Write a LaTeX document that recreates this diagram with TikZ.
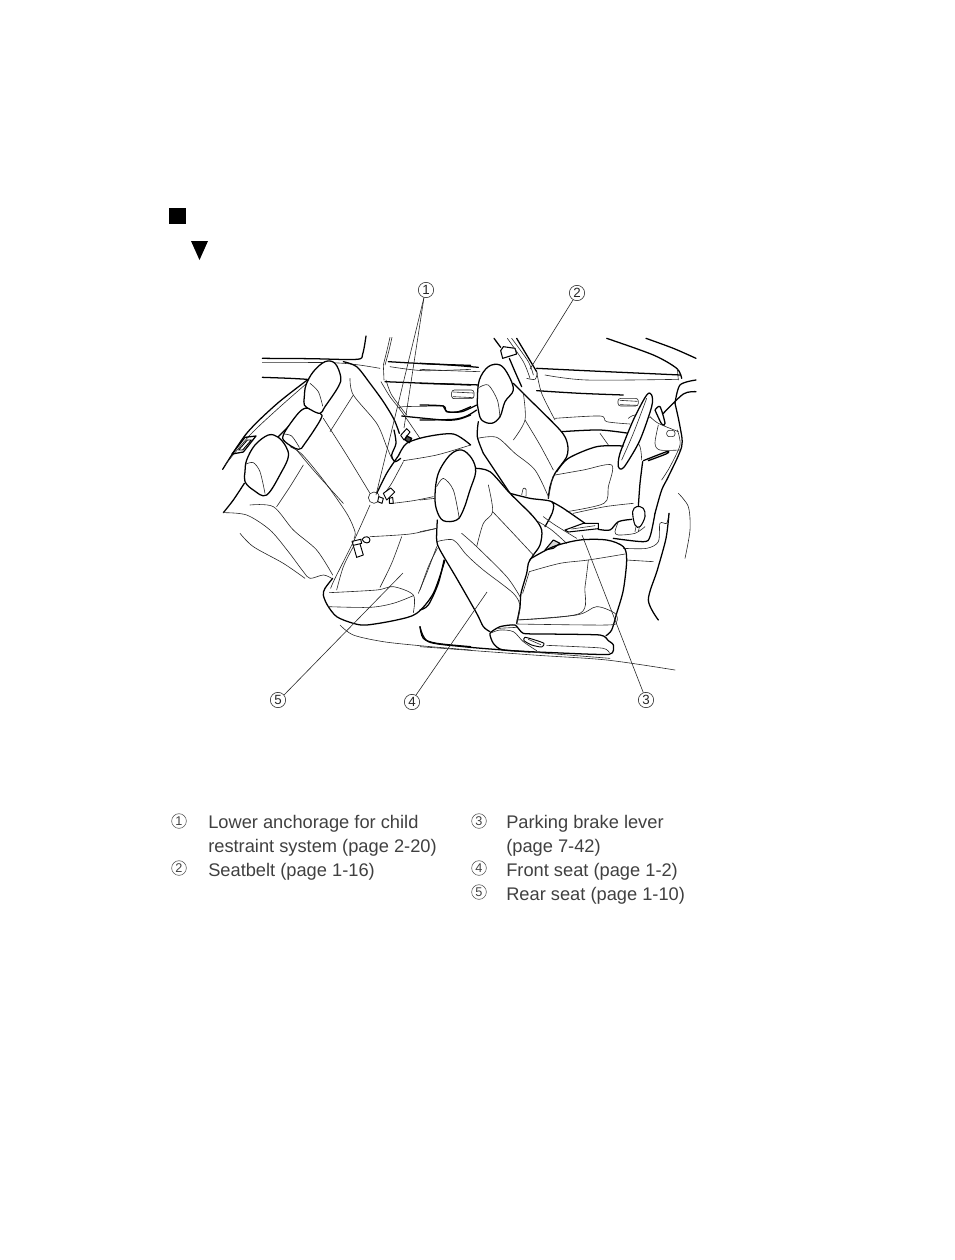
\documentclass[tikz,border=0pt]{standalone}
\usepackage{fontspec}
\setmainfont{Liberation Sans}
\newcommand\TK[1]{\draw[hv] plot[smooth,tension=0.5] coordinates {#1};}
\newcommand\TN[1]{\draw[lt] plot[smooth,tension=0.5] coordinates {#1};}
\newcommand\BL[1]{\draw[hv,fill=white] plot[smooth cycle,tension=0.6] coordinates {#1};}
\tikzset{
  hv/.style={line width=.95pt,black,line join=round,line cap=round},
  lt/.style={line width=.45pt,black!85,line join=round,line cap=round},
  leader/.style={line width=.45pt,black!85},
  callout/.style={circle,draw=black!85,line width=.45pt,inner sep=0pt,minimum size=11.5pt,font=\fontsize{10}{10}\selectfont,text=black!85},
  legnum/.style={circle,draw=black!70,line width=.4pt,inner sep=0pt,minimum size=11pt,font=\fontsize{9.5}{10}\selectfont,text=black!75},
  legtxt/.style={anchor=base west,inner sep=0pt,font=\fontsize{13.7}{18}\selectfont,text=black!75},
  za/.style={shift={(210,330)},x=.25pt,y=-.25pt},
  zb/.style={shift={(420,330)},x=.25pt,y=-.25pt}
}
\begin{document}
\begin{tikzpicture}[x=.75pt,y=-.75pt]
\useasboundingbox (0,0) rectangle (954,1260);
\fill[black] (169,208) rectangle (186,224);
\fill[black] (191,241) -- (208,241) -- (199.5,260) -- cycle;

% ---------- rear seat and left side ----------
\begin{scope}[za]
\TK{(157,85)(300,86)(440,88)(458,72)(468,18)}
\TN{(157,97)(360,98)(440,104)(510,115)}
\TK{(157,142)(240,145)(292,148)}
\TN{(520,105)(530,65)(540,22)}
\TN{(525,105)(536,65)(546,22)}
\TN{(513,155)(540,200)(575,245)(630,325)}
\TN{(528,150)(545,195)(590,255)}
\TN{(520,105)(522,150)}
\TK{(292,150)(200,222)(110,310)(38,418)}
\TN{(296,155)(205,235)(120,315)(45,405)}
\TK{(295,232)(250,275)(205,320)}
\draw[hv] (66,372) -- (105,322) -- (138,318) -- (100,366) -- cycle;
\draw[hv,line width=.7pt] (86,360) -- (112,330) -- (124,330) -- (98,360) -- cycle;
\TK{(535,95)(660,102)(782,106)}
\TN{(540,110)(640,122)(782,118)}
\TK{(525,155)(650,160)(782,165)}
\draw[lt,fill=white,rounded corners=2pt] (725,182) rectangle (782,206);
\TN{(732,186)(782,188)} \TN{(732,202)(782,204)}
\TN{(570,235)(580,230)(700,228)}
\TK{(700,228)(712,245)(745,245)(782,230)}
\TK{(575,258)(700,270)(745,268)(782,255)}
\TK{(400,95)(440,110)(480,160)(520,215)(552,268)(568,310)}
\TK{(103,460)(70,510)(40,548)}
\TN{(40,548)(110,555)(180,600)(235,665)(280,725)(300,745)(340,735)(365,745)}
\TN{(90,610)(130,650)(220,700)(285,745)}
\TN{(120,525)(190,530)(250,600)(320,660)(368,735)}
\TK{(566,376)(530,430)(498,495)}
\TN{(580,395)(545,460)(522,492)}
\TN{(420,145)(430,195)(500,280)(530,350)(545,385)}
\TN{(430,195)(395,250)(360,305)}
\TN{(340,265)(410,375)(480,490)}
\TN{(280,405)(240,470)(200,530)}
\TN{(260,360)(310,420)(400,520)}
\TN{(240,350)(275,372)(340,450)(410,550)(435,605)(432,625)}
\TK{(552,300)(558,340)(545,375)(555,395)(572,385)}
\draw[hv,line width=.7pt,fill=white] (572,316) -- (590,296) -- (600,306) -- (582,330) -- cycle;
\draw[hv,fill=black!70] (590,318) -- (605,325) -- (598,338) -- (585,330) -- cycle;
\draw[lt,fill=white] (492,503) circle (17);
\draw[hv,line width=.7pt,fill=white] (520,490) -- (542,474) -- (554,486) -- (530,510) -- cycle;
\draw[hv,line width=.7pt,fill=white] (506,500) -- (520,505) -- (516,520) -- (503,515) -- cycle;
\draw[hv,line width=.7pt,fill=white] (538,505) -- (548,502) -- (550,520) -- (538,520) -- cycle;
\draw[hv,line width=.7pt,fill=white] (456,628) .. controls (465,615) and (480,620) .. (480,630) .. controls (480,642) and (462,642) .. (456,628) -- cycle;
\draw[hv,line width=.7pt,fill=white] (428,640) -- (448,635) -- (460,675) -- (440,682) -- cycle;
\draw[hv,line width=.7pt,fill=white] (426,634) -- (452,628) -- (455,640) -- (430,646) -- cycle;
\TN{(480,525)(435,625)(375,745)(362,775)}
\TN{(430,650)(400,710)(380,780)}
\TN{(480,620)(600,612)(680,595)}
\TN{(548,520)(610,512)(670,500)}
\TN{(575,620)(545,700)(510,772)}
\TN{(680,650)(650,730)(625,790)}
\TN{(580,392)(680,375)(782,345)}
\TK{(368,745)(345,775)(340,795)(352,825)(380,860)(430,880)(470,885)(560,870)(620,850)(670,790)(705,690)}
\TN{(358,788)(500,780)(550,770)(610,795)(610,848)}
\TN{(355,830)(480,832)(550,820)(610,797)}
\TN{(390,885)(430,915)(520,935)(640,948)(782,960)}
\TK{(630,890)(640,925)(680,940)(782,950)}
\BL{(105,425)(110,390)(135,345)(175,315)(205,322)(228,350)(235,380)(215,425)(170,495)(130,480)(105,455)}
\TN{(108,402)(130,398)(150,425)(165,490)}
\BL{(275,240)(245,275)(220,315)(225,335)(265,358)(285,340)(332,268)(330,250)(300,235)}
\TN{(220,312)(245,318)(268,352)}
\BL{(283,200)(288,165)(310,125)(345,95)(375,100)(392,140)(385,170)(345,230)(330,250)(300,238)(283,225)}
\TN{(300,160)(325,185)(338,228)}
\TK{(566,376)(590,340)(650,320)(730,312)(782,345)}
\end{scope}

% ---------- front seats, dash ----------
\begin{scope}[zb]
\TK{(560,25)(700,75)(770,115)(785,145)}
\TK{(678,25)(760,55)(828,85)}
\TN{(772,115)(775,150)}
\TK{(350,115)(560,125)(782,135)}
\TN{(375,135)(500,150)(775,148)}
\TK{(350,182)(480,190)(610,195)}
\TK{(0,100)(90,105)(175,112)}
\TN{(0,118)(90,122)(180,125)}
\TK{(0,160)(90,162)(180,165)}
\draw[lt,fill=white,rounded corners=2pt] (95,180) rectangle (162,206);
\TN{(100,186)(160,189)} \TN{(100,200)(160,203)}
\TK{(0,225)(70,228)(80,245)(125,245)(170,225)}
\TK{(0,270)(100,268)(140,258)(170,240)}
\draw[lt,fill=white,rounded corners=2pt] (594,205) rectangle (655,228);
\TN{(600,211)(652,214)} \TN{(600,224)(652,226)}
\TN{(405,265)(540,258)(560,275)(630,282)}
\TK{(425,305)(540,300)(640,312)}
\TN{(540,310)(565,345)}
% seatbelt
\TK{(222,25)(242,52)}
\draw[hv,fill=white,line width=.8pt] (242,62) -- (250,50) -- (285,55) -- (290,72) -- (248,85) -- cycle;
\TN{(262,25)(310,95)(330,145)}
\TK{(290,25)(350,125)}
\TN{(275,25)(325,95)(340,135)}
\TK{(268,85)(285,125)(305,170)}
\TN{(350,125)(365,190)(405,270)}
\TN{(320,145)(345,148)(352,128)}
% dash
\TK{(765,220)(780,165)(828,150)}
\TK{(828,185)(790,192)(730,250)}
\TK{(705,240)(720,230)(735,280)(725,282)(705,240)}
\TK{(765,220)(780,290)(785,350)(745,440)(725,480)(705,550)}
\TN{(772,300)(780,345)(750,410)(725,450)}
\TN{(690,260)(715,280)(775,305)}
\TN{(715,285)(705,340)(720,360)(780,360)}
\draw[lt,fill=white,rounded corners=2pt] (740,301) rectangle (765,320);
\TK{(670,392)(740,365)(740,371)(685,392)}
\TK{(668,395)(660,460)(655,530)}
\TN{(625,265)(645,255)(690,262)}
\TN{(635,310)(660,350)(665,390)}
\draw[hv,fill=white] plot[smooth cycle,tension=0.5] coordinates {(595,410)(600,370)(640,270)(680,195)(695,195)(695,230)(660,330)(620,400)(605,417)};
\TN{(605,390)(640,310)(680,205)}
% console
\TN{(460,550)(555,530)(640,520)}
\TK{(535,598)(570,600)(595,575)(635,568)}
\TN{(595,575)(585,605)(595,615)(645,610)(675,590)}
\TK{(705,550)(690,620)(670,635)(580,625)}
\TN{(610,655)(680,655)(715,635)(720,580)(740,580)(747,550)}
\TN{(620,690)(700,695)}
\TN{(775,490)(805,530)(810,600)(795,685)}
\TK{(747,550)(738,625)(712,720)(685,810)(715,870)}
\draw[hv,fill=white,line width=.8pt] plot[smooth cycle,tension=0.6] coordinates {(638,545)(650,530)(670,535)(675,560)(660,590)(645,585)};
\TN{(648,590)(645,605)} \TN{(658,592)(655,605)}
% driver's seat
\TK{(410,425)(445,385)(530,350)(610,348)}
\TN{(405,435)(490,420)(575,405)(565,470)(552,520)(440,545)}
\TK{(190,370)(230,430)(270,490)}
\TK{(280,160)(320,200)(420,300)(442,340)(440,380)(405,430)(390,470)(385,505)}
\TN{(398,440)(385,505)}
\TN{(310,190)(315,270)(280,330)}
\TN{(315,270)(360,345)(400,420)}
\TN{(172,325)(230,322)(285,370)(345,420)(385,500)}
\TK{(175,275)(172,320)(190,370)}
\BL{(172,210)(178,150)(205,110)(240,105)(265,135)(280,180)(255,215)(240,260)(215,280)(185,270)(175,240)}
\TN{(178,172)(205,165)(232,210)(240,262)}
\TN{(305,495)(310,475)(318,478)(318,498)}
% console top and brake
\TK{(270,490)(330,505)(395,515)(398,545)(375,590)}
\TK{(395,515)(430,535)(495,580)}
\TN{(370,560)(405,585)(470,625)}
\TN{(355,575)(395,600)(440,640)}
\draw[hv,fill=white,line width=.8pt] (435,600) -- (490,580) -- (535,580) -- (535,596) -- (445,606) -- cycle;
\TN{(455,597)(525,587)}
\draw[hv,fill=black!15,line width=.8pt] (375,660) -- (400,630) -- (420,640) -- (400,655) -- cycle;
% front cushion
\TK{(325,690)(400,650)(480,630)(560,630)(610,650)(620,690)(610,780)(590,850)(575,900)(558,917)}
\TN{(328,725)(420,700)(505,690)(615,672)}
\TN{(505,690)(495,770)(480,850)(290,870)}
\TN{(290,870)(470,855)(530,830)(585,850)(590,875)(560,885)(290,882)}
% front back
\draw[white,fill=white] plot[smooth cycle,tension=.4] coordinates {(52,572)(60,660)(170,850)(210,900)(295,860)(322,700)(362,640)(362,590)(270,490)(210,425)(165,415)(130,540)};
\TK{(52,570)(50,630)(60,660)(110,745)(170,850)(190,890)(210,905)}
\TK{(165,415)(210,425)(270,490)(340,560)(365,600)(360,645)(340,675)(325,700)(320,730)(303,790)(300,830)(290,880)}
\TN{(328,725)(308,790)}
\TN{(205,465)(218,545)(190,580)(170,650)}
\TN{(218,545)(270,600)(340,675)}
\TN{(50,635)(100,630)(140,675)(190,720)(280,790)(300,830)(290,880)}
\TN{(125,610)(170,650)(260,740)(300,800)}
\BL{(45,495)(55,430)(90,375)(125,360)(155,385)(167,425)(150,480)(130,540)(110,570)(70,572)(50,540)}
\TN{(50,470)(70,445)(100,480)(118,566)}
\TN{(45,505)(0,510)} \TN{(50,595)(0,605)}
\TN{(52,655)(25,710)(0,780)}
\TK{(72,690)(55,760)(25,825)(0,840)}
% seat base
\draw[hv,fill=white] plot[smooth cycle,tension=.35] coordinates {(210,910)(240,890)(285,885)(310,910)(380,912)(540,915)(565,932)(580,945)(568,973)(400,968)(250,960)(220,940)};
\TN{(210,910)(240,900)(280,905)(310,935)(350,962)}
\TN{(235,895)(290,892)}
\TN{(380,946)(470,950)(550,955)(568,968)}
\draw[hv,line width=.7pt,fill=white] plot[smooth cycle,tension=.4] coordinates {(315,922)(345,930)(372,940)(365,951)(335,945)(312,932)};
\TN{(325,928)(362,944)}
% floor
\TK{(0,890)(25,935)(130,950)(250,960)(330,966)}
\TN{(0,950)(340,975)(560,990)(765,1020)}
\TN{(330,966)(570,985)}
\end{scope}

% ---------- callouts ----------
\node[callout] (c1) at (426,290) {1};
\node[callout] (c2) at (577,293) {2};
\node[callout] (c3) at (646,700) {3};
\node[callout] (c4) at (412,702) {4};
\node[callout] (c5) at (278,700) {5};
\coordinate (p1a) at (376,495);
\coordinate (p1b) at (404,428);
\coordinate (p2) at (530,369);
\coordinate (p3) at (582,535);
\coordinate (p4) at (487,592);
\coordinate (p5) at (403,573);
\draw[leader] (c1.255) -- (p1a);
\draw[leader] (c1.255) -- (p1b);
\draw[leader] (c2.240) -- (p2);
\draw[leader] (c3.110) -- (p3);
\draw[leader] (c4.60) -- (p4);
\draw[leader] (c5.40) -- (p5);

% ---------- legend ----------
\node[legnum] (n1) at (179,821) {1};
\node[legnum] (n2) at (179,868) {2};
\node[legnum] (n3) at (479,821) {3};
\node[legnum] (n4) at (479,868) {4};
\node[legnum] (n5) at (479,892) {5};
\node[legtxt] (t1) at (208,828) {Lower anchorage for child};
\node[legtxt] (t1b) at (208,852) {restraint system (page 2-20)};
\node[legtxt] (t2) at (208,876) {Seatbelt (page 1-16)};
\node[legtxt] (t3) at (506,828) {Parking brake lever};
\node[legtxt] (t3b) at (506,852) {(page 7-42)};
\node[legtxt] (t4) at (506,876) {Front seat (page 1-2)};
\node[legtxt] (t5) at (506,900) {Rear seat (page 1-10)};
\end{tikzpicture}
\end{document}
